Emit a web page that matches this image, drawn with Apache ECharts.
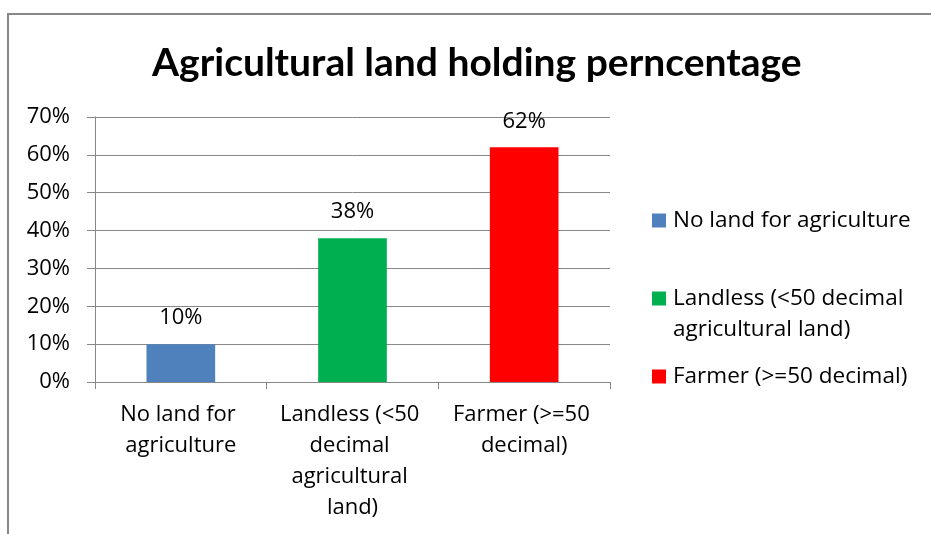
<!DOCTYPE html>
<html><head><meta charset="utf-8">
<script src="https://cdn.jsdelivr.net/npm/echarts@6/dist/echarts.min.js"></script>
<style>html,body{margin:0;padding:0;background:#fff}#c{width:931px;height:534px}</style>
</head><body><div id="c"></div>
<script>
const titleText = 'Agricultural land holding perncentage';
const categories = ['No land for agriculture', 'Landless (<50 decimal agricultural land)', 'Farmer (>=50 decimal)'];
const legendLabels = ['No land for agriculture', 'Landless (<50 decimal\nagricultural land)', 'Farmer (>=50 decimal)'];
const values = [10, 38, 62];
const colors = ['#4F81BD', '#00B050', '#FF0000'];
const yMin = 0, yMax = 70, yStep = 10;

const FONT = '"Open Sans"';
const TFONT = 'Lato';
const GRAY = '#878787';
const chart = echarts.init(document.getElementById('c'), null, {renderer: 'canvas'});
chart.setOption({
  animation: false,
  backgroundColor: '#fff',
  title: {
    text: titleText, left: 147, top: 39,
    textStyle: {fontFamily: TFONT, fontWeight: 'bold', fontSize: 39, color: '#000'}
  },
  graphic: [{
    type: 'polyline', silent: true,
    shape: {points: [[8, 540], [8, 14], [940, 14]]},
    style: {stroke: GRAY, lineWidth: 2, fill: null}
  }],
  legend: {
    orient: 'vertical', left: 652, top: 205, padding: 0, itemGap: 16,
    icon: 'rect', itemWidth: 14, itemHeight: 14,
    data: categories,
    formatter: function (name) {
      const t = legendLabels[categories.indexOf(name)];
      return t.indexOf('\n') >= 0 ? '\n' + t : t;
    },
    textStyle: {fontFamily: FONT, fontSize: 22.5, color: '#000', lineHeight: 31, padding: [0, 0, 0, 2]}
  },
  grid: {left: 95, right: 321, top: 117, bottom: 152, containLabel: false},
  xAxis: {
    type: 'category', data: categories,
    axisLine: {show: true, lineStyle: {color: GRAY, width: 1}},
    axisTick: {show: true, length: 7, interval: 0, lineStyle: {color: GRAY}},
    axisLabel: {interval: 0, margin: 17, fontFamily: FONT, fontSize: 22, color: '#000',
      lineHeight: 31, width: 162, overflow: 'break', align: 'center'},
    splitLine: {show: false}
  },
  yAxis: {
    type: 'value', min: yMin, max: yMax, interval: yStep,
    axisLine: {show: true, lineStyle: {color: GRAY, width: 1}},
    axisTick: {show: true, length: 8, lineStyle: {color: GRAY}},
    axisLabel: {formatter: '{value}%', margin: 25, fontFamily: FONT, fontSize: 22, color: '#000'},
    splitLine: {show: true, lineStyle: {color: GRAY, width: 1}}
  },
  series: categories.map(function (name, i) {
    return {
      name: name, type: 'bar', barWidth: '40%', barGap: '-100%',
      itemStyle: {color: colors[i]},
      data: values.map(function (v, j) { return j === i ? v : '-'; }),
      label: {show: true, position: 'top', distance: 15, formatter: '{c}%',
        fontFamily: FONT, fontSize: 22, color: '#000'}
    };
  })
});
</script></body></html>
